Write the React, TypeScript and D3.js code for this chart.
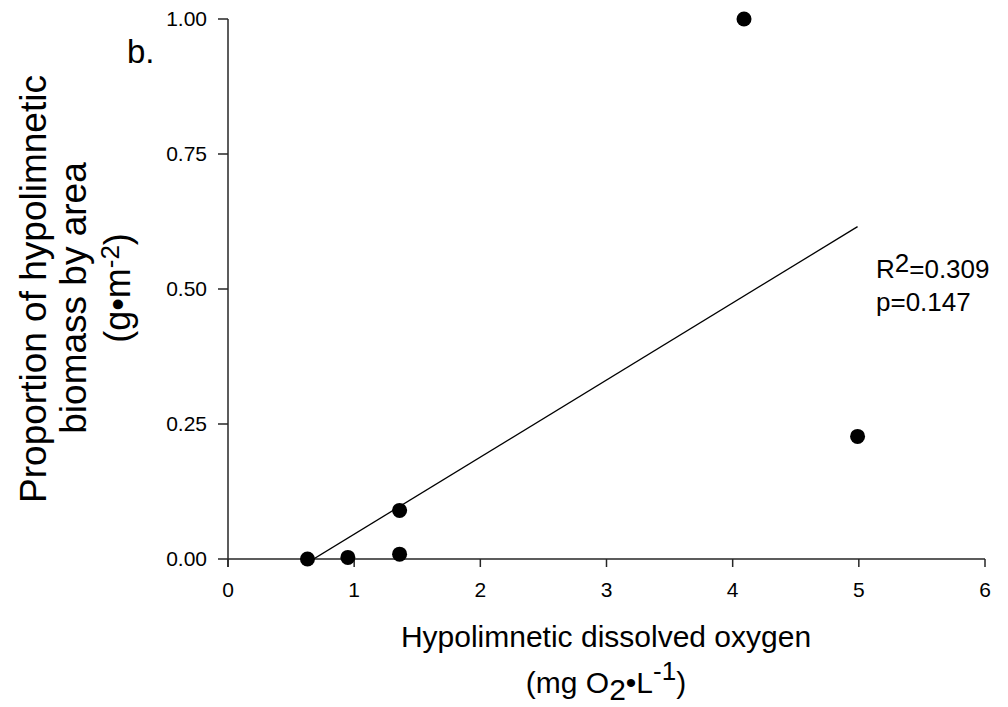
import React from "react";
import * as d3 from "d3";

const oxygen = [0.63, 0.95, 1.36, 1.36, 4.09, 4.99];
const biomass = [0.0, 0.003, 0.009, 0.09, 1.0, 0.227];
const xTicks = [0, 1, 2, 3, 4, 5, 6];
const yTicks = [0, 0.25, 0.5, 0.75, 1.0];
const statR2 = "0.309";
const statP = "0.147";

const W = 1008;
const H = 707;
const FONT = "'Liberation Sans', Arial, Helvetica, sans-serif";

export default function App() {
  const x = d3.scaleLinear().domain([0, 6]).range([228, 985]);
  const y = d3.scaleLinear().domain([0, 1]).range([559, 19]);

  const pts = oxygen.map((o, i) => ({ x: o, y: biomass[i] }));
  const mx = d3.mean(oxygen) as number;
  const my = d3.mean(biomass) as number;
  const sxy = d3.sum(pts, (p) => (p.x - mx) * (p.y - my));
  const sxx = d3.sum(pts, (p) => (p.x - mx) * (p.x - mx));
  const slope = sxy / sxx;
  const icpt = my - slope * mx;
  const x0 = d3.min(oxygen) as number;
  const x1 = d3.max(oxygen) as number;
  const fitLine = d3
    .line<number>()
    .x((d) => x(d))
    .y((d) => y(icpt + slope * d))([x0, x1]);

  const axisColor = "#262626";

  return (
    <svg
      width={W}
      height={H}
      style={{ position: "absolute", left: 0, top: 0, background: "#fff" }}
      fontFamily={FONT}
    >
      <defs>
        <clipPath id="plotClip">
          <rect x={x(0)} y={0} width={x(6) - x(0) + 10} height={y(0)} />
        </clipPath>
      </defs>

      {/* y axis */}
      <line x1={x(0)} x2={x(0)} y1={y(1)} y2={y(0) + 8} stroke={axisColor} strokeWidth={1.5} />
      {yTicks.map((t) => (
        <g key={"yt" + t}>
          <line x1={x(0) - 10} x2={x(0)} y1={y(t)} y2={y(t)} stroke={axisColor} strokeWidth={1.5} />
          <text x={207} y={y(t) + 7} textAnchor="end" fontSize={21} fill="#000">
            {d3.format(".2f")(t)}
          </text>
        </g>
      ))}

      {/* x axis */}
      <line x1={x(0)} x2={x(6)} y1={y(0)} y2={y(0)} stroke={axisColor} strokeWidth={1.5} />
      {xTicks.map((t) => (
        <g key={"xt" + t}>
          <line x1={x(t)} x2={x(t)} y1={y(0)} y2={y(0) + 8} stroke={axisColor} strokeWidth={1.5} />
          <text x={x(t)} y={597} textAnchor="middle" fontSize={21} fill="#000">
            {t}
          </text>
        </g>
      ))}

      {/* regression line */}
      <path d={fitLine || ""} fill="none" stroke="#000" strokeWidth={1.3} clipPath="url(#plotClip)" />

      {/* points */}
      {pts.map((p, i) => (
        <circle key={i} cx={x(p.x)} cy={y(p.y)} r={7.5} fill="#000" />
      ))}

      {/* stats */}
      <text x={876} y={278} fontSize={26} fill="#000">
        R<tspan dy={-6}>2</tspan>
        <tspan dy={6}>={statR2}</tspan>
      </text>
      <text x={876} y={311} fontSize={26} fill="#000">
        p={statP}
      </text>

      {/* panel label */}
      <text x={127} y={63} fontSize={33} fill="#000">
        b.
      </text>

      {/* x title */}
      <text x={606} y={647} textAnchor="middle" fontSize={30} fill="#000">
        Hypolimnetic dissolved oxygen
      </text>
      <text x={606} y={693} textAnchor="middle" fontSize={30} fill="#000">
        (mg O<tspan dy={7}>2</tspan>
        <tspan dy={-7}>•L</tspan>
        <tspan dy={-13} fontSize={26}>-1</tspan>
        <tspan dy={13}>)</tspan>
      </text>

      {/* y title */}
      <g transform="translate(46,289) rotate(-90)">
        <text x={0} y={0} textAnchor="middle" fontSize={37} fill="#000">
          Proportion of hypolimnetic
        </text>
      </g>
      <g transform="translate(86,298) rotate(-90)">
        <text x={0} y={0} textAnchor="middle" fontSize={37} fill="#000">
          biomass by area
        </text>
      </g>
      <g transform="translate(130,288) rotate(-90)">
        <text x={0} y={0} textAnchor="middle" fontSize={36} fill="#000">
          (g•m<tspan dy={-11} fontSize={26}>-2</tspan>
          <tspan dy={11}>)</tspan>
        </text>
      </g>
    </svg>
  );
}
